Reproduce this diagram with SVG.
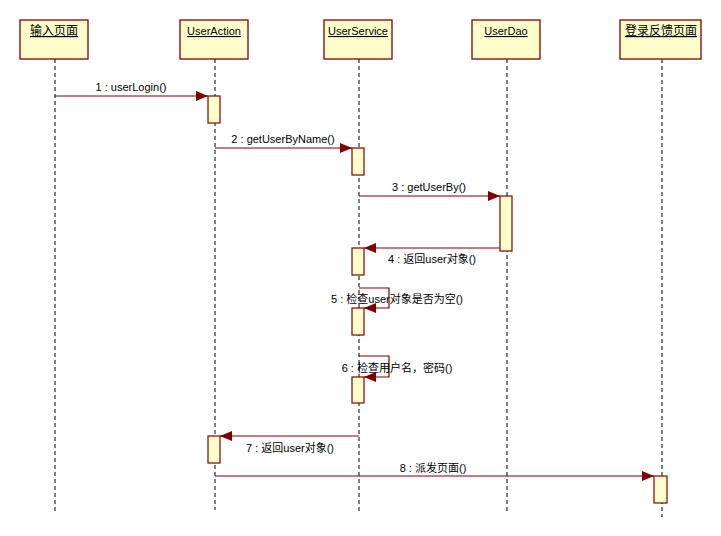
<svg xmlns="http://www.w3.org/2000/svg" width="721" height="536" viewBox="0 0 721 536">
<style>
.head{fill:#FFFFCC;stroke:#800000;stroke-width:1.3}
.act{fill:#FFFFCC;stroke:#800000;stroke-width:1.2}
.life{stroke:#000;stroke-width:1;stroke-dasharray:4,3;fill:none}
.msg{stroke:#800000;stroke-width:1.2;fill:none}
text{font-family:"Liberation Sans","Noto Sans CJK SC",sans-serif;font-size:11px;fill:#000}
.ht{text-anchor:middle;text-decoration:underline}
.ml{text-anchor:middle}
</style>
<defs>
<marker id="arr" markerUnits="userSpaceOnUse" markerWidth="12" markerHeight="10" refX="12" refY="5" orient="auto">
<path d="M0,0 L12,5 L0,10 Z" fill="#800000"/>
</marker>
</defs>
<rect width="721" height="536" fill="#fff"/>
<g id="lifelines">
<line class="life" x1="55" y1="59" x2="55" y2="512"/>
<line class="life" x1="215" y1="59" x2="215" y2="510"/>
<line class="life" x1="359" y1="59" x2="359" y2="512"/>
<line class="life" x1="507" y1="59" x2="507" y2="514"/>
<line class="life" x1="662" y1="59" x2="662" y2="517"/>
</g>
<g id="node-input"><rect class="head" x="20" y="20" width="68" height="39"/><text class="ht" x="54" y="35" style="font-size:12px">输入页面</text></g>
<g id="node-useraction"><rect class="head" x="180" y="20" width="68" height="39"/><text class="ht" x="214" y="35">UserAction</text></g>
<g id="node-userservice"><rect class="head" x="324" y="20" width="68" height="39"/><text class="ht" x="358" y="35">UserService</text></g>
<g id="node-userdao"><rect class="head" x="472" y="20" width="68" height="39"/><text class="ht" x="506" y="35">UserDao</text></g>
<g id="node-feedback"><rect class="head" x="620" y="20" width="81" height="39"/><text class="ht" x="661" y="35" style="font-size:12px">登录反馈页面</text></g>
<g id="activations">
<rect class="act" x="208" y="96" width="12" height="27"/>
<rect class="act" x="352" y="148" width="12" height="27"/>
<rect class="act" x="500" y="196" width="12" height="55"/>
<rect class="act" x="352" y="248" width="12" height="27"/>
<rect class="act" x="352" y="308" width="12" height="27"/>
<rect class="act" x="352" y="377" width="12" height="26"/>
<rect class="act" x="208" y="436" width="12" height="27"/>
<rect class="act" x="654" y="476" width="13" height="27"/>
</g>
<g id="connectors">
<line class="msg" x1="55" y1="96" x2="208" y2="96" marker-end="url(#arr)"/>
<text class="ml" x="131" y="91">1 : userLogin()</text>
<line class="msg" x1="215" y1="148" x2="352" y2="148" marker-end="url(#arr)"/>
<text class="ml" x="283" y="143">2 : getUserByName()</text>
<line class="msg" x1="359" y1="196" x2="500" y2="196" marker-end="url(#arr)"/>
<text class="ml" x="429" y="191">3 : getUserBy()</text>
<line class="msg" x1="500" y1="248" x2="364" y2="248" marker-end="url(#arr)"/>
<text class="ml" x="432" y="263">4 : 返回user对象()</text>
<path class="msg" d="M359,288 H389 V308 H364" marker-end="url(#arr)"/>
<text class="ml" x="397" y="303">5 : 检查user对象是否为空()</text>
<path class="msg" d="M359,356 H389 V377 H364" marker-end="url(#arr)"/>
<text class="ml" x="397" y="372">6 : 检查用户名，密码()</text>
<line class="msg" x1="359" y1="436" x2="220" y2="436" marker-end="url(#arr)"/>
<text class="ml" x="290" y="452">7 : 返回user对象()</text>
<line class="msg" x1="215" y1="476" x2="654" y2="476" marker-end="url(#arr)"/>
<text class="ml" x="433" y="472">8 : 派发页面()</text>
</g>
</svg>
